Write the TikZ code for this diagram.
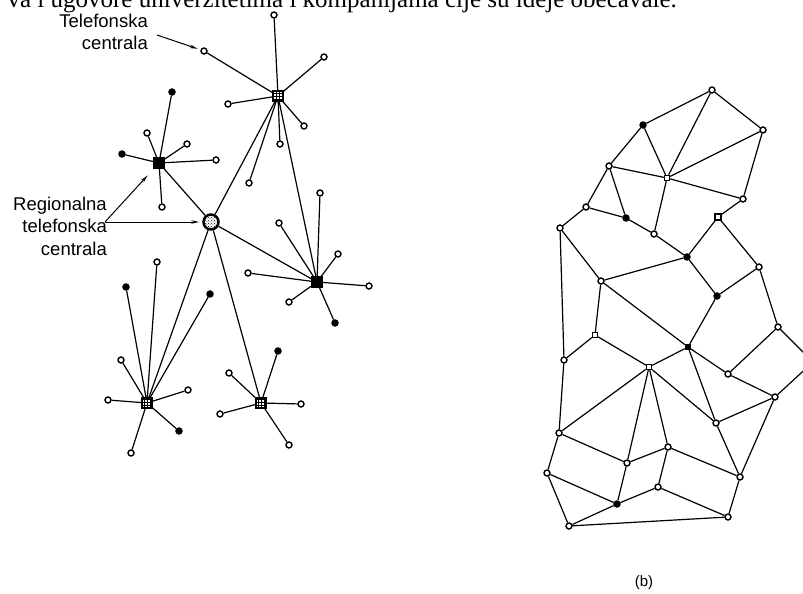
\documentclass[tikz,border=0pt]{standalone}
\usepackage{fontspec}
\setmainfont{Liberation Serif}
\newfontfamily\labelfont{Liberation Sans}
\usetikzlibrary{arrows.meta,patterns}

\tikzset{
  leaf/.style={circle, draw, line width=1.4pt, fill=white, inner sep=0pt, minimum size=6pt},
  leafdot/.style={leaf, fill=black},
  hub/.style={rectangle, draw, line width=1.4pt, inner sep=0pt, minimum size=10pt,
    preaction={fill=white}, pattern=grid},
  hubdark/.style={rectangle, draw, line width=1.4pt, inner sep=0pt, minimum size=10pt, fill=black},
  regional/.style={circle, draw, line width=2.5pt, inner sep=0pt, minimum size=15pt,
    preaction={fill=white}, pattern=crosshatch dots},
  link/.style={line width=1.2pt},
  pointer/.style={line width=1pt, -{Stealth[length=8pt,width=3.5pt]}, shorten >=3pt},
  caption/.style={font=\labelfont\fontsize{18.5}{22.5}\selectfont, align=right, inner sep=0pt, anchor=base east},
}

\begin{document}
\begin{tikzpicture}[x=1pt,y=-1pt]
    \useasboundingbox (0,0) rectangle (803,594);
    % odsjeceni red teksta iznad slike
    \node[font=\fontsize{25}{30}\selectfont, inner sep=0pt, anchor=base east] (uvod) at (677,8)
        {va i ugovore univerzitetima i kompanijama čije su ideje obećavale.};

    % (a) hijerarhijska mreza: centrale
    \node[regional] (ra) at (211,222) {};
    \node[hub] (ca) at (278,96) {};
    \node[hubdark] (cb) at (159,163) {};
    \node[hubdark] (cc) at (317,282) {};
    \node[hub] (cd) at (147,403) {};
    \node[hub] (ce) at (261,403) {};

    % pretplatnici
    \node[leaf] (a1) at (274,15) {};
    \node[leaf] (a2) at (324,57) {};
    \node[leaf] (a3) at (228,104) {};
    \node[leaf] (a4) at (204,51) {};
    \node[leaf] (a5) at (304,126) {};
    \node[leaf] (a6) at (280,144) {};
    \node[leaf] (a7) at (249,183) {};

    \node[leafdot] (b1) at (122,154) {};
    \node[leaf] (b2) at (147,133) {};
    \node[leaf] (b3) at (187,144) {};
    \node[leaf] (b4) at (216,160) {};
    \node[leaf] (b5) at (162,207) {};
    \node[leafdot] (b6) at (172,92) {};

    \node[leaf] (c1) at (320,193) {};
    \node[leaf] (c2) at (279,223) {};
    \node[leaf] (c3) at (338,254) {};
    \node[leaf] (c4) at (248,273) {};
    \node[leaf] (c5) at (369,286) {};
    \node[leaf] (c6) at (289,302) {};
    \node[leafdot] (c7) at (335,323) {};

    \node[leafdot] (d1) at (126,287) {};
    \node[leaf] (d2) at (157,262) {};
    \node[leafdot] (d3) at (210,294) {};
    \node[leaf] (d4) at (121,360) {};
    \node[leaf] (d5) at (188,390) {};
    \node[leaf] (d6) at (108,400) {};
    \node[leafdot] (d7) at (179,431) {};
    \node[leaf] (d8) at (131,453) {};

    \node[leafdot] (e1) at (278,351) {};
    \node[leaf] (e2) at (229,373) {};
    \node[leaf] (e3) at (220,414) {};
    \node[leaf] (e4) at (301,404) {};
    \node[leaf] (e5) at (289,445) {};

    \draw[link] (ra) -- (ca) (ra) -- (cb) (ra) -- (cc) (ra) -- (cd) (ra) -- (ce) (ca) -- (cc);
    \draw[link] (ca) -- (a1) (ca) -- (a2) (ca) -- (a3) (ca) -- (a4) (ca) -- (a5) (ca) -- (a6) (ca) -- (a7);
    \draw[link] (cb) -- (b1) (cb) -- (b2) (cb) -- (b3) (cb) -- (b4) (cb) -- (b5) (cb) -- (b6);
    \draw[link] (cc) -- (c1) (cc) -- (c2) (cc) -- (c3) (cc) -- (c4) (cc) -- (c5) (cc) -- (c6) (cc) -- (c7);
    \draw[link] (cd) -- (d1) (cd) -- (d2) (cd) -- (d3) (cd) -- (d4) (cd) -- (d5) (cd) -- (d6) (cd) -- (d7) (cd) -- (d8);
    \draw[link] (ce) -- (e1) (ce) -- (e2) (ce) -- (e3) (ce) -- (e4) (ce) -- (e5);

    % oznake (base = zadnji red)
    \node[caption] (tclabel) at (148,50) {Telefonska\\centrala};
    \node[caption] (rclabel) at (107,255) {Regionalna\\telefonska\\centrala};
    \coordinate (tctail) at (157,35);
    \coordinate (rctail) at (105,222);
    \draw[pointer] (tctail) -- (a4);
    \draw[pointer, shorten >=9pt] (rctail) -- (cb);
    \draw[pointer] (rctail) -- (ra);

    % (b) mreza bez centrale
    \node[leaf] (m1) at (712,90) {};
    \node[leafdot] (m2) at (643,125) {};
    \node[leaf] (m3) at (763,130) {};
    \node[leaf] (m4) at (609,166) {};
    \node[leaf, rectangle, minimum size=5pt] (m5) at (667,178) {};
    \node[leaf] (m6) at (743,199) {};
    \node[leaf] (m7) at (586,207) {};
    \node[leafdot] (m8) at (626,218) {};
    \node[leaf, rectangle] (m9) at (718,217) {};
    \node[leaf] (m10) at (560,228) {};
    \node[leaf] (m11) at (654,234) {};
    \node[leafdot] (m12) at (687,257) {};
    \node[leaf] (m13) at (601,281) {};
    \node[leaf] (m14) at (759,267) {};
    \node[leafdot] (m15) at (717,296) {};
    \node[leaf, rectangle, minimum size=5pt] (m16) at (595,335) {};
    \node[leaf] (m17) at (778,327) {};
    \node[leaf] (m18) at (564,360) {};
    \node[leafdot, rectangle, minimum size=5pt] (m19) at (688,347) {};
    \node[leaf] (m20) at (728,374) {};
    \node[leaf, rectangle, minimum size=5pt] (m21) at (649,367) {};
    \node[leaf] (m22) at (775,397) {};
    \node[leaf] (m23) at (716,423) {};
    \node[leaf] (m24) at (813,362) {};
    \node[leaf] (m25) at (559,433) {};
    \node[leaf] (m26) at (547,473) {};
    \node[leaf] (m27) at (627,463) {};
    \node[leaf] (m28) at (668,447) {};
    \node[leaf] (m29) at (740,477) {};
    \node[leaf] (m30) at (658,487) {};
    \node[leafdot] (m31) at (617,504) {};
    \node[leaf] (m32) at (728,517) {};
    \node[leaf] (m33) at (569,526) {};

    \draw[link] (m1) -- (m2) (m1) -- (m3) (m1) -- (m5) (m3) -- (m5) (m2) -- (m4) (m2) -- (m5)
        (m4) -- (m5) (m5) -- (m6) (m3) -- (m6) (m4) -- (m7) (m4) -- (m8) (m5) -- (m11)
        (m7) -- (m8) (m7) -- (m10) (m8) -- (m11) (m6) -- (m9) (m9) -- (m12) (m9) -- (m14)
        (m10) -- (m13) (m10) -- (m18) (m11) -- (m12) (m12) -- (m13) (m12) -- (m15)
        (m14) -- (m15) (m14) -- (m17) (m13) -- (m16) (m13) -- (m19) (m15) -- (m19)
        (m16) -- (m18) (m16) -- (m21) (m19) -- (m21) (m19) -- (m20) (m19) -- (m23)
        (m17) -- (m20) (m20) -- (m22) (m17) -- (m24) (m22) -- (m24) (m21) -- (m23)
        (m22) -- (m23) (m21) -- (m25) (m18) -- (m25) (m21) -- (m27) (m21) -- (m28)
        (m22) -- (m29) (m23) -- (m29) (m25) -- (m26) (m25) -- (m27) (m27) -- (m28)
        (m27) -- (m31) (m28) -- (m30) (m28) -- (m29) (m26) -- (m31) (m26) -- (m33)
        (m31) -- (m30) (m30) -- (m32) (m29) -- (m32) (m33) -- (m31) (m33) -- (m32);

    \node[font=\labelfont\fontsize{15}{18}\selectfont] (oznb) at (644,583) {(b)};
\end{tikzpicture}
\end{document}
